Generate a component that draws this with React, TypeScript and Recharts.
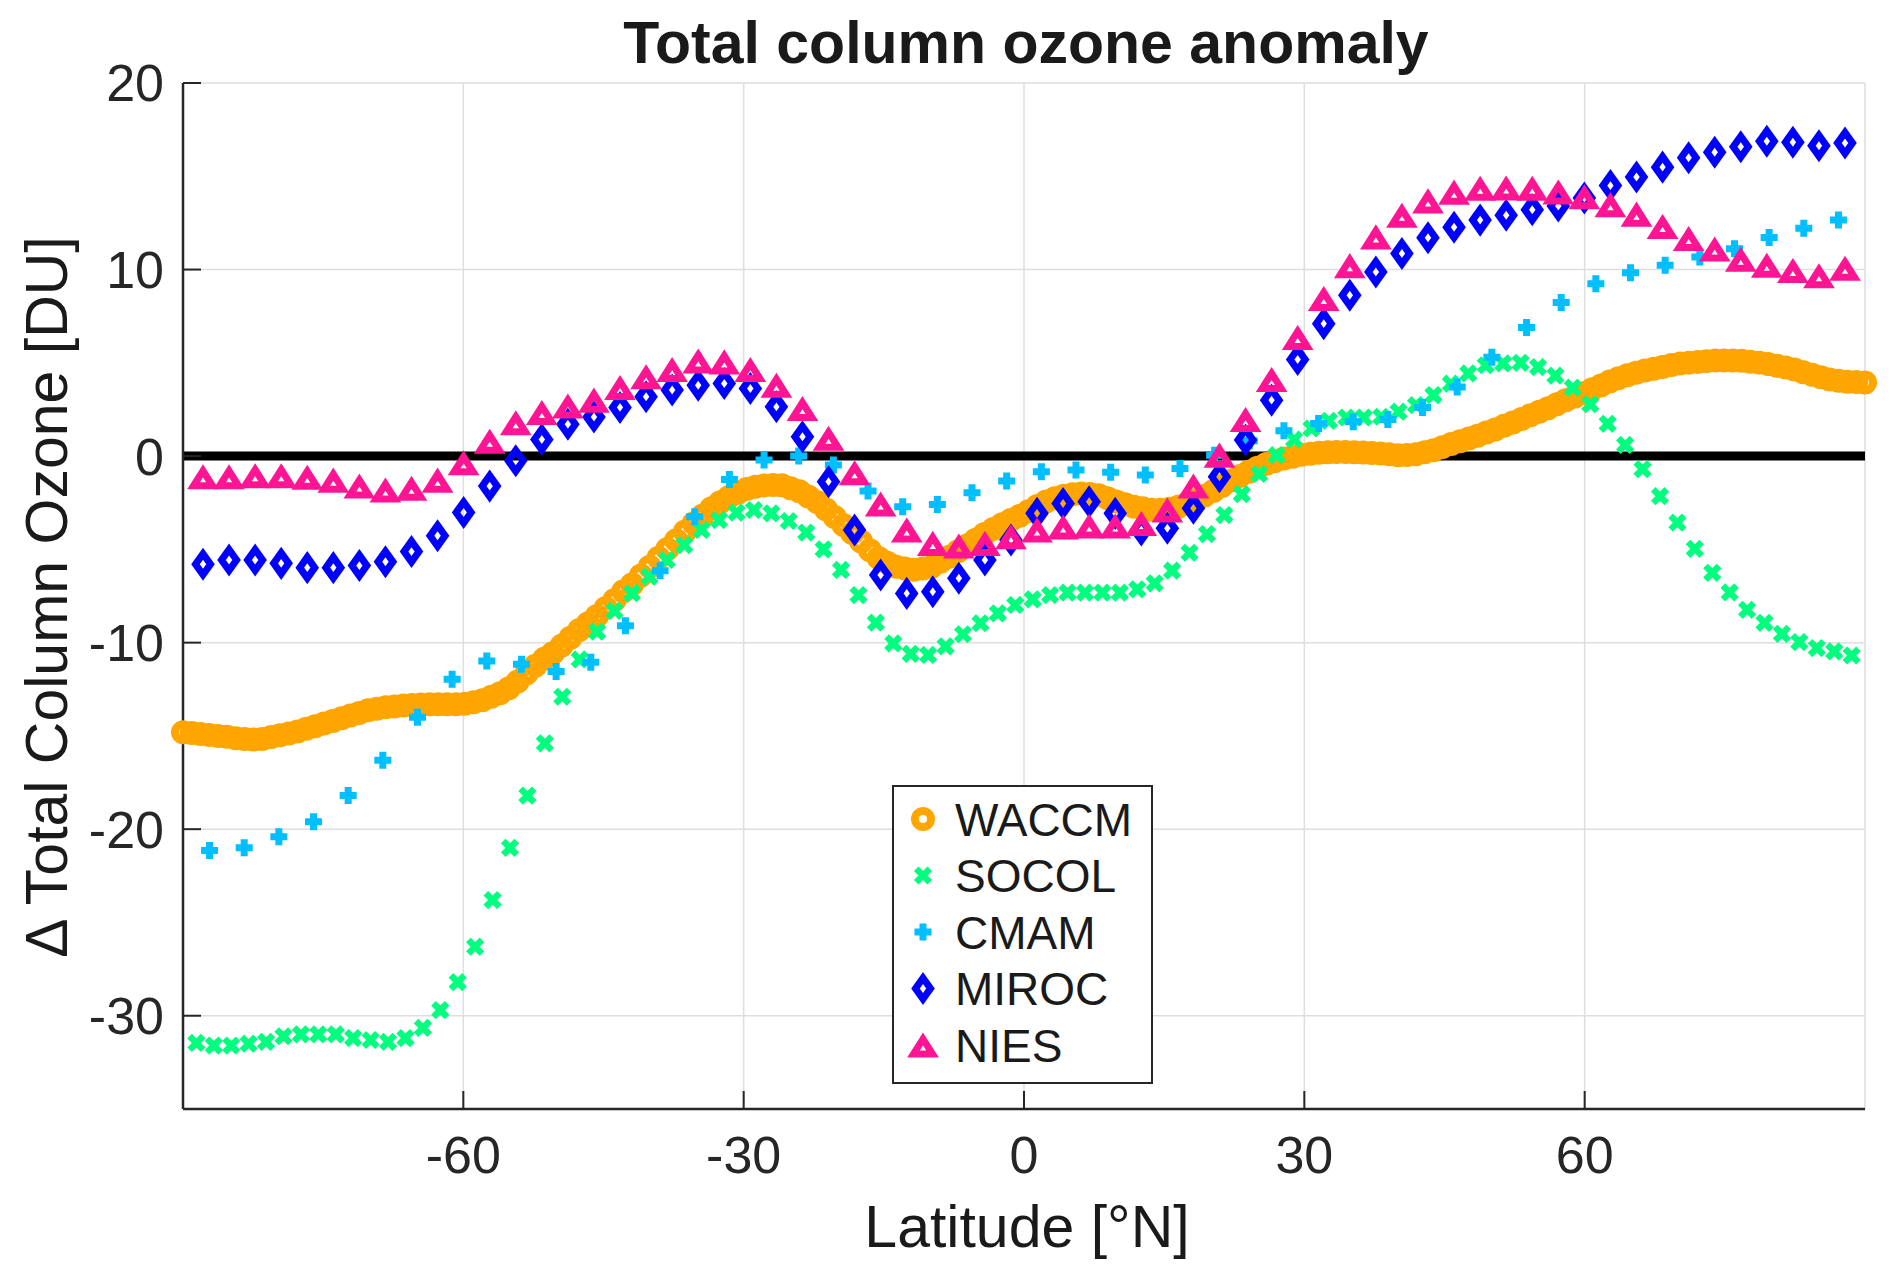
import {
  ScatterChart,
  Scatter,
  XAxis,
  YAxis,
  CartesianGrid,
  ReferenceLine,
} from "recharts";

const xTicks = [-60, -30, 0, 30, 60];
const yTicks = [-30, -20, -10, 0, 10, 20];

// model latitude grids (first lat, last lat, number of rows)
const gridLats = (first: number, last: number, n: number) =>
  Array.from({ length: n }, (_, i) => first + ((last - first) * i) / (n - 1));

const waccmLat = gridLats(-90, 90, 192);
const socolLat = gridLats(-88.57, 88.57, 96);
const cmamLat = gridLats(-87.16, 87.16, 48);
const t42Lat = gridLats(-87.86, 87.86, 64); // MIROC + NIES

const waccm = [
  -14.8, -14.85, -14.9, -14.95, -15.0, -15.05, -15.12, -15.16, -15.19, -15.17,
  -15.06, -14.96, -14.87, -14.77, -14.62, -14.48, -14.34, -14.2, -14.06, -13.91,
  -13.77, -13.63, -13.55, -13.47, -13.42, -13.37, -13.34, -13.31, -13.3, -13.3,
  -13.3, -13.3, -13.28, -13.19, -13.09, -12.9, -12.71, -12.45, -12.08, -11.66,
  -11.24, -10.87, -10.55, -10.16, -9.74, -9.32, -8.96, -8.57, -8.14, -7.72,
  -7.25, -6.87, -6.4, -5.93, -5.45, -4.98, -4.51, -4.04, -3.6, -3.18,
  -2.8, -2.48, -2.19, -1.96, -1.77, -1.65, -1.57, -1.55, -1.56, -1.72,
  -1.89, -2.17, -2.46, -2.85, -3.27, -3.7, -4.13, -4.58, -5.05, -5.46,
  -5.72, -5.93, -6.03, -6.09, -6.03, -5.93, -5.66, -5.4, -5.1, -4.79,
  -4.48, -4.18, -3.91, -3.65, -3.43, -3.2, -2.96, -2.68, -2.44, -2.26,
  -2.13, -2.05, -2.0, -2.03, -2.1, -2.26, -2.43, -2.58, -2.72, -2.8,
  -2.88, -2.87, -2.82, -2.72, -2.56, -2.36, -2.12, -1.87, -1.59, -1.31,
  -1.07, -0.84, -0.63, -0.42, -0.27, -0.13, -0.03, 0.07, 0.13, 0.18,
  0.21, 0.22, 0.22, 0.21, 0.19, 0.16, 0.14, 0.1, 0.05, 0.06,
  0.1, 0.2, 0.31, 0.48, 0.65, 0.8, 0.94, 1.09, 1.26, 1.43,
  1.62, 1.8, 1.99, 2.19, 2.38, 2.57, 2.78, 2.99, 3.18, 3.37,
  3.58, 3.79, 4.0, 4.17, 4.33, 4.47, 4.59, 4.68, 4.77, 4.88,
  4.96, 5.01, 5.05, 5.09, 5.12, 5.12, 5.12, 5.11, 5.06, 5.01,
  4.93, 4.84, 4.75, 4.64, 4.49, 4.36, 4.23, 4.11, 4.04, 3.99,
  3.97, 3.95,
];

const socol = [
  -31.46, -31.6, -31.6, -31.5, -31.4, -31.1, -31.0, -31.0, -31.0, -31.2,
  -31.3, -31.4, -31.2, -30.65, -29.7, -28.2, -26.3, -23.8, -21.0, -18.2,
  -15.4, -12.9, -10.9, -9.41, -8.3, -7.35, -6.46, -5.57, -4.77, -3.96,
  -3.43, -3.03, -2.89, -3.07, -3.48, -4.1, -5.0, -6.1, -7.45, -8.93,
  -10.04, -10.6, -10.66, -10.2, -9.55, -8.96, -8.43, -7.98, -7.68, -7.45,
  -7.32, -7.32, -7.32, -7.32, -7.14, -6.82, -6.14, -5.18, -4.18, -3.16,
  -2.04, -0.96, 0.05, 0.89, 1.48, 1.89, 2.07, 2.07, 2.11, 2.38,
  2.73, 3.27, 3.88, 4.43, 4.87, 4.97, 5.0, 4.77, 4.31, 3.67,
  2.78, 1.73, 0.6, -0.7, -2.15, -3.57, -4.97, -6.26, -7.31, -8.24,
  -8.94, -9.53, -9.97, -10.29, -10.47, -10.69,
];

const cmam = [
  -21.14, -21.0, -20.4, -19.6, -18.2, -16.3, -14.0, -11.96, -10.98, -11.16,
  -11.55, -11.05, -9.09, -6.14, -3.25, -1.25, -0.21, 0.0, -0.48, -1.87,
  -2.71, -2.59, -1.96, -1.34, -0.84, -0.75, -0.87, -1.02, -0.66, 0.05,
  0.82, 1.36, 1.75, 1.84, 1.96, 2.61, 3.71, 5.3, 6.89, 8.24,
  9.24, 9.83, 10.23, 10.67, 11.12, 11.72, 12.21, 12.65,
];

const miroc = [
  -5.8, -5.57, -5.57, -5.75, -5.98, -5.98, -5.87, -5.66, -5.12, -4.27,
  -3.02, -1.61, -0.25, 0.89, 1.71, 2.1, 2.61, 3.18, 3.54, 3.8,
  3.89, 3.62, 2.64, 1.04, -1.37, -3.96, -6.37, -7.36, -7.27, -6.55,
  -5.57, -4.5, -3.07, -2.54, -2.45, -3.07, -3.96, -3.87, -2.8, -1.11,
  0.86, 3.0, 5.18, 7.1, 8.62, 9.87, 10.86, 11.7, 12.27, 12.65,
  12.91, 13.21, 13.41, 13.84, 14.5, 14.96, 15.49, 15.99, 16.29, 16.58,
  16.88, 16.82, 16.64, 16.78,
];

const nies = [
  -1.11, -1.11, -1.05, -1.05, -1.14, -1.29, -1.61, -1.82, -1.73, -1.29,
  -0.36, 0.8, 1.79, 2.34, 2.68, 3.0, 3.68, 4.25, 4.64, 5.1,
  5.05, 4.64, 3.8, 2.55, 0.95, -0.89, -2.57, -3.96, -4.68, -4.82,
  -4.68, -4.32, -3.96, -3.8, -3.75, -3.75, -3.61, -2.89, -1.61, 0.05,
  1.96, 4.11, 6.36, 8.45, 10.21, 11.75, 12.91, 13.68, 14.15, 14.36,
  14.37, 14.36, 14.16, 13.9, 13.48, 12.97, 12.31, 11.66, 11.1, 10.55,
  10.23, 9.95, 9.67, 10.07,
];

const FONT = '"Liberation Sans", Arial, Helvetica, sans-serif';
const INK = "#262626";

const toPoints = (lats: number[], vals: number[]) =>
  vals.map((y, i) => ({ x: lats[i], y }));

// marker shapes (MATLAB-like, thick lines)
const Ring = ({ cx, cy }: any) => (
  <circle cx={cx} cy={cy} r={8} fill="none" stroke="#FFA500" strokeWidth={8} />
);
const Cross = ({ cx, cy }: any) => (
  <path
    d={`M${cx - 4.5},${cy - 4.5}L${cx + 4.5},${cy + 4.5}M${cx - 4.5},${cy + 4.5}L${cx + 4.5},${cy - 4.5}`}
    stroke="#00FF7F"
    strokeWidth={6.5}
    strokeLinecap="square"
    fill="none"
  />
);
const Plus = ({ cx, cy }: any) => (
  <path
    d={`M${cx - 8.5},${cy}L${cx + 8.5},${cy}M${cx},${cy - 8.5}L${cx},${cy + 8.5}`}
    stroke="#00BFFF"
    strokeWidth={7}
    fill="none"
  />
);
const Diamond = ({ cx, cy }: any) => (
  <path
    d={`M${cx},${cy - 10.5}L${cx + 7.5},${cy}L${cx},${cy + 10.5}L${cx - 7.5},${cy}Z`}
    stroke="#0000FF"
    strokeWidth={7}
    fill="none"
  />
);
const Triangle = ({ cx, cy }: any) => (
  <path
    d={`M${cx},${cy - 6}L${cx + 9.5},${cy + 9}L${cx - 9.5},${cy + 9}Z`}
    stroke="#FF1493"
    strokeWidth={7}
    fill="none"
  />
);

const legendItems = [
  { name: "WACCM", Mark: Ring },
  { name: "SOCOL", Mark: Cross },
  { name: "CMAM", Mark: Plus },
  { name: "MIROC", Mark: Diamond },
  { name: "NIES", Mark: Triangle },
];

export default function App() {
  return (
    <div
      style={{
        position: "absolute",
        left: 0,
        top: 0,
        width: 1892,
        height: 1270,
        background: "#fff",
        fontFamily: FONT,
      }}
    >
      <ScatterChart
        width={1892}
        height={1270}
        margin={{ top: 83, right: 27, bottom: 101, left: 103 }}
      >
        <CartesianGrid stroke="#dedede" strokeWidth={1.5} />
        <XAxis
          dataKey="x"
          type="number"
          domain={[-90, 90]}
          ticks={xTicks}
          height={60}
          axisLine={{ stroke: INK, strokeWidth: 2.5 }}
          tickLine={{ stroke: INK, strokeWidth: 2 }}
          tickSize={-18}
          tickMargin={45}
          tick={{ fontSize: 52, fill: INK, fontFamily: FONT }}
        />
        <YAxis
          dataKey="y"
          type="number"
          domain={[-35, 20]}
          ticks={yTicks}
          width={80}
          axisLine={{ stroke: INK, strokeWidth: 2.5 }}
          tickLine={{ stroke: INK, strokeWidth: 2 }}
          tickSize={-18}
          tickMargin={37}
          tick={{ fontSize: 52, fill: INK, fontFamily: FONT }}
        />
        <XAxis
          xAxisId="top"
          orientation="top"
          type="number"
          domain={[-90, 90]}
          ticks={xTicks}
          height={0}
          axisLine={{ stroke: INK, strokeWidth: 2.5 }}
          tickLine={{ stroke: INK, strokeWidth: 2 }}
          tickSize={-18}
          tick={false}
        />
        <YAxis
          yAxisId="right"
          orientation="right"
          type="number"
          domain={[-35, 20]}
          ticks={yTicks}
          width={0}
          axisLine={{ stroke: INK, strokeWidth: 2.5 }}
          tickLine={{ stroke: INK, strokeWidth: 2 }}
          tickSize={-18}
          tick={false}
        />
        <ReferenceLine y={0} stroke="#000" strokeWidth={9} zIndex={-50} />
        <Scatter
          name="WACCM"
          data={toPoints(waccmLat, waccm)}
          shape={Ring}
          isAnimationActive={false}
        />
        <Scatter
          name="SOCOL"
          data={toPoints(socolLat, socol)}
          shape={Cross}
          isAnimationActive={false}
        />
        <Scatter
          name="CMAM"
          data={toPoints(cmamLat, cmam)}
          shape={Plus}
          isAnimationActive={false}
        />
        <Scatter
          name="MIROC"
          data={toPoints(t42Lat, miroc)}
          shape={Diamond}
          isAnimationActive={false}
        />
        <Scatter
          name="NIES"
          data={toPoints(t42Lat, nies)}
          shape={Triangle}
          isAnimationActive={false}
        />
      </ScatterChart>

      {/* title, axis labels and legend box */}
      <svg
        width={1892}
        height={1270}
        style={{ position: "absolute", left: 0, top: 0, pointerEvents: "none" }}
        fontFamily={FONT}
      >
        <text x={1026} y={63} textAnchor="middle" fontSize={59} fontWeight={700} fill="#1a1a1a">
          Total column ozone anomaly
        </text>
        <text x={1027} y={1247} textAnchor="middle" fontSize={59} fill="#1a1a1a">
          Latitude [°N]
        </text>
        <text
          transform="translate(67,597) rotate(-90)"
          textAnchor="middle"
          fontSize={59}
          fill="#1a1a1a"
        >
          Δ Total Column Ozone [DU]
        </text>

        <rect x={893} y={786} width={259} height={297} fill="#fff" stroke={INK} strokeWidth={2} />
        {legendItems.map(({ name, Mark }, i) => {
          const cy = 819 + i * 56.5;
          return (
            <g key={name}>
              <Mark cx={923} cy={cy} />
              <text x={955} y={cy + 16.5} fontSize={46} fill="#1a1a1a">
                {name}
              </text>
            </g>
          );
        })}
      </svg>
    </div>
  );
}
